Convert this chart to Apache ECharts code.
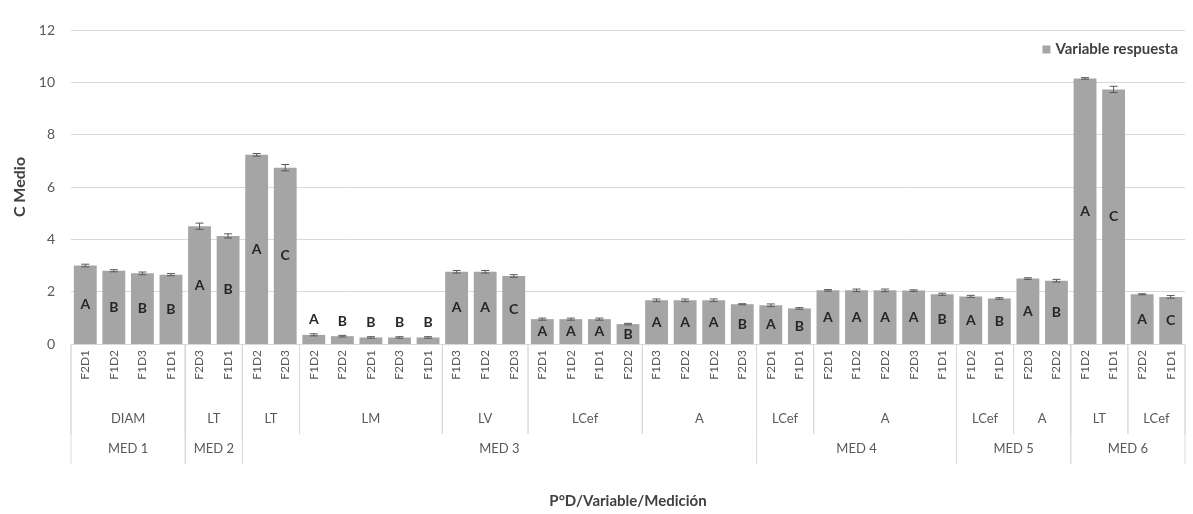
<!DOCTYPE html>
<html>
<head>
<meta charset="utf-8">
<script src="https://cdn.jsdelivr.net/npm/echarts@6/dist/echarts.min.js"></script>
<style>
  html, body { margin: 0; padding: 0; background: #fff; }
  #chart { width: 1193px; height: 514px; }
</style>
</head>
<body>
<div id="chart"></div>
<script>
// Treatment codes (P°D) for each bar, left to right
const categories = [
  'F2D1', 'F1D2', 'F1D3', 'F1D1',
  'F2D3', 'F1D1', 'F1D2', 'F2D3',
  'F1D2', 'F2D2', 'F2D1', 'F2D3', 'F1D1',
  'F1D3', 'F1D2', 'F2D3',
  'F2D1', 'F1D2', 'F1D1', 'F2D2',
  'F1D3', 'F2D2', 'F1D2', 'F2D3',
  'F2D1', 'F1D1',
  'F2D1', 'F1D2', 'F2D2', 'F2D3', 'F1D1',
  'F1D2', 'F1D1',
  'F2D3', 'F2D2',
  'F1D2', 'F1D1',
  'F2D2', 'F1D1'
];

// Mean response (C Medio)
const means = [
  3.00, 2.80, 2.70, 2.65,
  4.50, 4.13, 7.23, 6.74,
  0.35, 0.30, 0.25, 0.25, 0.25,
  2.76, 2.76, 2.60,
  0.95, 0.95, 0.95, 0.76,
  1.67, 1.67, 1.67, 1.52,
  1.48, 1.36,
  2.05, 2.05, 2.05, 2.04, 1.90,
  1.82, 1.74,
  2.50, 2.42,
  10.15, 9.73,
  1.90, 1.80
];

// Standard error of each mean
const errors = [
  0.05, 0.04, 0.05, 0.04,
  0.12, 0.08, 0.05, 0.12,
  0.04, 0.03, 0.03, 0.03, 0.03,
  0.05, 0.05, 0.05,
  0.04, 0.04, 0.04, 0.03,
  0.05, 0.05, 0.05, 0.02,
  0.05, 0.03,
  0.03, 0.05, 0.05, 0.03, 0.04,
  0.04, 0.03,
  0.03, 0.05,
  0.03, 0.12,
  0.02, 0.05
];

// Significance letters
const letters = [
  'A', 'B', 'B', 'B',
  'A', 'B', 'A', 'C',
  'A', 'B', 'B', 'B', 'B',
  'A', 'A', 'C',
  'A', 'A', 'A', 'B',
  'A', 'A', 'A', 'B',
  'A', 'B',
  'A', 'A', 'A', 'A', 'B',
  'A', 'B',
  'A', 'B',
  'A', 'C',
  'A', 'C'
];

// Variable groups: name, first and last bar index
const variableNames = ['DIAM', 'LT', 'LT', 'LM', 'LV', 'LCef', 'A', 'LCef', 'A', 'LCef', 'A', 'LT', 'LCef'];
const variableStart = [0, 4, 6, 8, 13, 16, 20, 24, 26, 31, 33, 35, 37];
const variableEnd   = [3, 5, 7, 12, 15, 19, 23, 25, 30, 32, 34, 36, 38];

// Measurement groups
const medicionNames = ['MED 1', 'MED 2', 'MED 3', 'MED 4', 'MED 5', 'MED 6'];
const medicionStart = [0, 4, 6, 24, 31, 35];
const medicionEnd   = [3, 5, 23, 30, 34, 38];

const yTicks = { min: 0, max: 12, interval: 2 };

const GREY_BAR = '#a5a5a5';
const GRID_LINE = '#d9d9d9';
const TEXT = '#595959';
const FONT = 'Lato, "Open Sans", sans-serif';

const chart = echarts.init(document.getElementById('chart'));

// Draws one row of group labels below the axis, with boundary lines
function groupRow(names, textOffset, lineLength) {
  return function (params, api) {
    const s = api.value(0);
    const e = api.value(2);
    const band = api.size([1, 0])[0];
    const ps = api.coord([s, 0]);
    const pe = api.coord([e, 0]);
    const x0 = ps[0] - band / 2;
    const x1 = pe[0] + band / 2;
    const y0 = ps[1];
    const lineStyle = { stroke: GRID_LINE, lineWidth: 1 };
    return {
      type: 'group',
      children: [
        { type: 'line', shape: { x1: x0, y1: y0, x2: x0, y2: y0 + lineLength }, style: lineStyle },
        { type: 'line', shape: { x1: x1, y1: y0, x2: x1, y2: y0 + lineLength }, style: lineStyle },
        {
          type: 'text',
          style: {
            text: names[params.dataIndex],
            x: (x0 + x1) / 2,
            y: y0 + textOffset,
            align: 'center',
            verticalAlign: 'middle',
            fill: TEXT,
            font: '13px ' + FONT
          }
        }
      ]
    };
  };
}

// Error bar with caps
function errorBar(params, api) {
  const i = api.value(0);
  const v = api.value(1);
  const err = api.value(2);
  const hi = api.coord([i, v + err]);
  const lo = api.coord([i, v - err]);
  const half = 4;
  const style = { stroke: '#595959', lineWidth: 1 };
  return {
    type: 'group',
    children: [
      { type: 'line', shape: { x1: hi[0], y1: hi[1], x2: lo[0], y2: lo[1] }, style: style },
      { type: 'line', shape: { x1: hi[0] - half, y1: hi[1], x2: hi[0] + half, y2: hi[1] }, style: style },
      { type: 'line', shape: { x1: lo[0] - half, y1: lo[1], x2: lo[0] + half, y2: lo[1] }, style: style }
    ]
  };
}

const barData = means.map(function (v) {
  return v < 0.5
    ? { value: v, label: { position: 'top', distance: 8 } }
    : { value: v };
});

const option = {
  animation: false,
  textStyle: { fontFamily: FONT },
  grid: { left: 71, right: 8, top: 30, bottom: 167 },
  legend: {
    data: ['Variable respuesta'],
    right: 10,
    top: 37,
    icon: 'rect',
    itemWidth: 8,
    itemHeight: 8,
    itemGap: 4,
    textStyle: { fontSize: 15, fontWeight: 'bold', color: '#404040', fontFamily: FONT }
  },
  xAxis: {
    type: 'category',
    data: categories,
    name: 'P°D/Variable/Medición',
    nameLocation: 'middle',
    nameGap: 150,
    nameTextStyle: { fontSize: 15, fontWeight: 'bold', color: '#404040' },
    axisLine: { lineStyle: { color: GRID_LINE } },
    axisTick: { show: false },
    axisLabel: { rotate: 90, fontSize: 12, color: TEXT, margin: 6, interval: 0 }
  },
  yAxis: {
    type: 'value',
    min: yTicks.min,
    max: yTicks.max,
    interval: yTicks.interval,
    name: 'C Medio',
    nameLocation: 'middle',
    nameGap: 40,
    nameTextStyle: { fontSize: 16, fontWeight: 'bold', color: '#404040' },
    axisLine: { show: false },
    axisTick: { show: false },
    axisLabel: { fontSize: 14, color: TEXT, margin: 16 },
    splitLine: { lineStyle: { color: GRID_LINE } }
  },
  series: [
    {
      name: 'Variable respuesta',
      type: 'bar',
      data: barData,
      barCategoryGap: '20%',
      itemStyle: { color: GREY_BAR },
      label: {
        show: true,
        position: 'inside',
        formatter: function (p) { return letters[p.dataIndex]; },
        fontSize: 14,
        fontWeight: 'bold',
        color: '#262626'
      }
    },
    {
      type: 'custom',
      renderItem: errorBar,
      data: means.map(function (v, i) { return [i, v, errors[i]]; }),
      encode: { x: 0, y: 1 },
      z: 5,
      silent: true
    },
    {
      type: 'custom',
      renderItem: groupRow(variableNames, 75, 90),
      data: variableStart.map(function (s, i) { return [s, 0, variableEnd[i]]; }),
      encode: { x: 0, y: 1 },
      clip: false,
      silent: true
    },
    {
      type: 'custom',
      renderItem: groupRow(medicionNames, 105, 120),
      data: medicionStart.map(function (s, i) { return [s, 0, medicionEnd[i]]; }),
      encode: { x: 0, y: 1 },
      clip: false,
      silent: true
    }
  ]
};

chart.setOption(option);
</script>
</body>
</html>
